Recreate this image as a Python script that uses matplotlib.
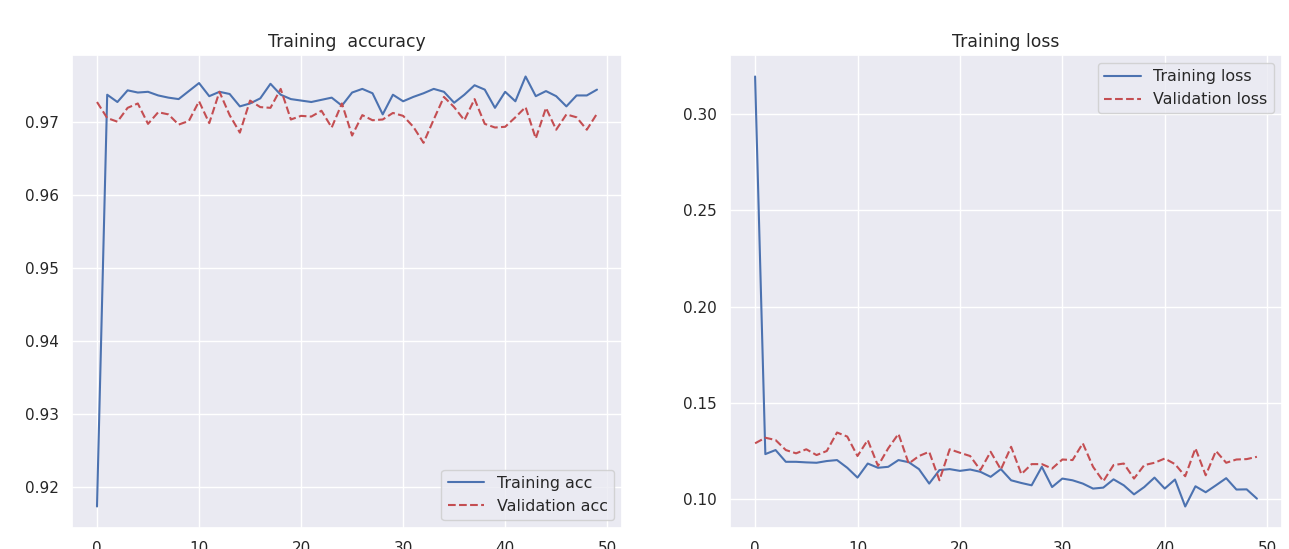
import matplotlib
matplotlib.use("Agg")
import matplotlib.pyplot as plt
import seaborn as sns
import numpy as np

sns.set_theme(style="darkgrid", context="notebook")
sns.set_color_codes()
plt.rcParams['font.family'] = ['DejaVu Sans']

epochs = list(range(50))

train_acc = [0.9173, 0.9738, 0.9728, 0.9744, 0.9741, 0.9742, 0.9737, 0.9734, 0.9732, 0.9743,
             0.9754, 0.9736, 0.9742, 0.9739, 0.9722, 0.9726, 0.9733, 0.9753, 0.9738, 0.9732,
             0.9730, 0.9728, 0.9731, 0.9734, 0.9723, 0.9741, 0.9746, 0.9740, 0.9711, 0.9738,
             0.9729, 0.9735, 0.9740, 0.9746, 0.9742, 0.9727, 0.9738, 0.9751, 0.9745, 0.9720,
             0.9742, 0.9729, 0.9763, 0.9736, 0.9743, 0.9736, 0.9722, 0.9737, 0.9737, 0.9745]

val_acc = [0.9728, 0.9706, 0.9701, 0.9720, 0.9726, 0.9698, 0.9714, 0.9711, 0.9697, 0.9702,
           0.9729, 0.9699, 0.9742, 0.9710, 0.9686, 0.9730, 0.9721, 0.9720, 0.9746, 0.9704,
           0.9709, 0.9708, 0.9716, 0.9693, 0.9726, 0.9682, 0.9710, 0.9703, 0.9704, 0.9713,
           0.9709, 0.9694, 0.9672, 0.9704, 0.9735, 0.9721, 0.9703, 0.9732, 0.9698, 0.9693,
           0.9694, 0.9707, 0.9721, 0.9678, 0.9720, 0.9690, 0.9711, 0.9707, 0.9690, 0.9712]

train_loss = [0.3195, 0.1235, 0.1256, 0.1195, 0.1195, 0.1192, 0.1190, 0.1199, 0.1204, 0.1164,
              0.1113, 0.1186, 0.1164, 0.1169, 0.1204, 0.1193, 0.1157, 0.1082, 0.1152, 0.1157,
              0.1148, 0.1155, 0.1143, 0.1117, 0.1157, 0.1099, 0.1085, 0.1073, 0.1169, 0.1064,
              0.1108, 0.1099, 0.1082, 0.1056, 0.1061, 0.1104, 0.1073, 0.1026, 0.1064, 0.1113,
              0.1056, 0.1103, 0.0963, 0.1068, 0.1037, 0.1073, 0.1110, 0.1051, 0.1052, 0.1004]

val_loss = [0.1291, 0.1320, 0.1308, 0.1256, 0.1239, 0.1260, 0.1230, 0.1251, 0.1347, 0.1326,
            0.1225, 0.1308, 0.1174, 0.1265, 0.1340, 0.1186, 0.1225, 0.1247, 0.1099, 0.1260,
            0.1242, 0.1225, 0.1152, 0.1247, 0.1155, 0.1273, 0.1131, 0.1183, 0.1183, 0.1160,
            0.1207, 0.1204, 0.1291, 0.1169, 0.1094, 0.1178, 0.1186, 0.1108, 0.1178, 0.1190,
            0.1212, 0.1183, 0.1120, 0.1265, 0.1125, 0.1251, 0.1190, 0.1207, 0.1209, 0.1221]

W, H = 1289, 549
fig = plt.figure(figsize=(W / 100, H / 100), dpi=100)
ax1 = fig.add_axes([72 / W, (H - 528) / H, 550 / W, 473 / H])
ax2 = fig.add_axes([730 / W, (H - 528) / H, 552 / W, 473 / H])

ax1.plot(epochs, train_acc, 'b', label='Training acc')
ax1.plot(epochs, val_acc, 'r--', label='Validation acc')
ax1.set_title('Training  accuracy', fontsize=12.4)
ax1.legend(loc='lower right', fontsize=11.4, handlelength=2.3)

ax2.plot(epochs, train_loss, 'b', label='Training loss')
ax2.plot(epochs, val_loss, 'r--', label='Validation loss')
ax2.set_title('Training loss', fontsize=12.4)
ax2.legend(loc='upper right', fontsize=11.4, handlelength=2.3)

for ax in (ax1, ax2):
    ax.tick_params(labelsize=11)
    ax.set_xticks([0, 10, 20, 30, 40, 50])

ax1.set_yticks([0.92, 0.93, 0.94, 0.95, 0.96, 0.97])
ax2.set_yticks([0.10, 0.15, 0.20, 0.25, 0.30])

fig.savefig('out.png', dpi=100)
